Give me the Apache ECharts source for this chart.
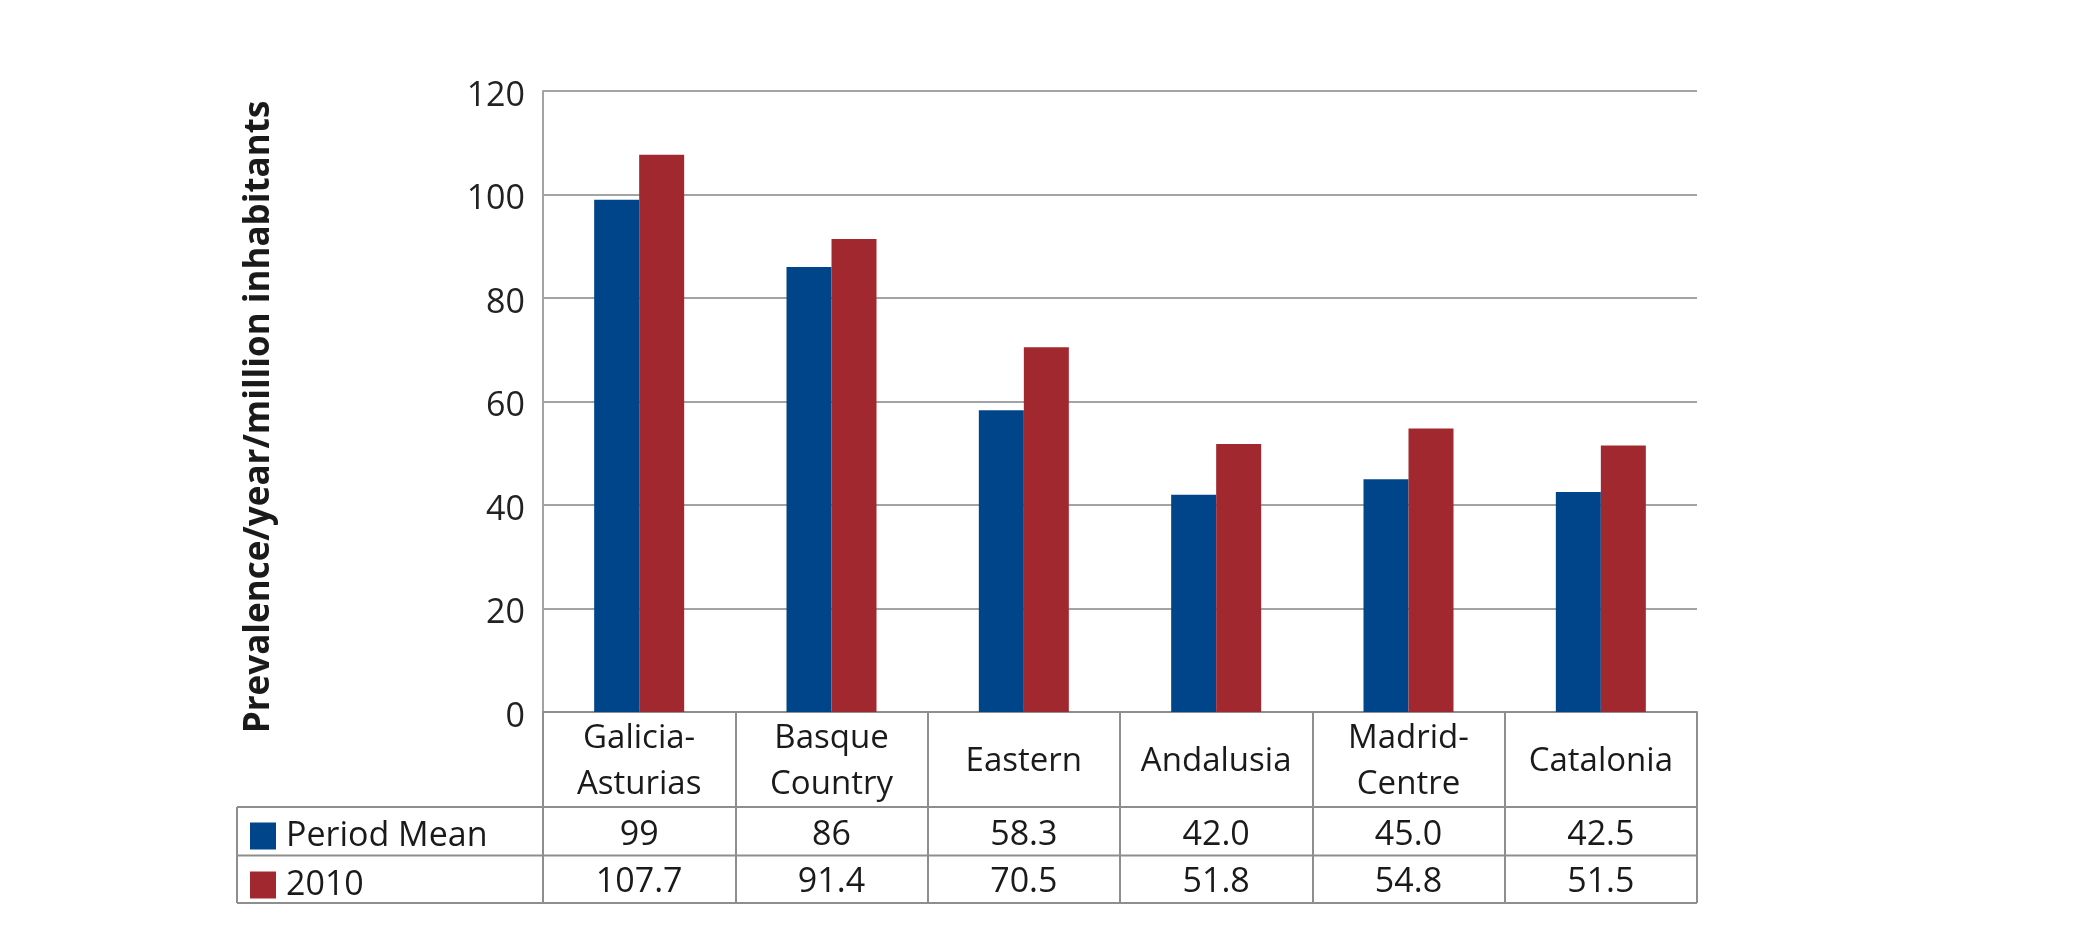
<!DOCTYPE html>
<html>
<head>
<meta charset="utf-8">
<script src="https://cdn.jsdelivr.net/npm/echarts@6/dist/echarts.min.js"></script>
<style>
html,body{margin:0;padding:0;background:#fff;}
#chart{width:2098px;height:926px;}
</style>
</head>
<body>
<div id="chart"></div>
<script>
// ---- data ----
const categories = ["Galicia-\nAsturias", "Basque\nCountry", "Eastern", "Andalusia", "Madrid-\nCentre", "Catalonia"];
const seriesNames = ["Period Mean", "2010"];
const periodMean = [99, 86, 58.3, 42.0, 45.0, 42.5];
const year2010 = [107.7, 91.4, 70.5, 51.8, 54.8, 51.5];
const periodMeanLabels = ["99", "86", "58.3", "42.0", "45.0", "42.5"];
const year2010Labels = ["107.7", "91.4", "70.5", "51.8", "54.8", "51.5"];
const yTicks = [0, 20, 40, 60, 80, 100, 120];

// ---- layout / style ----
const W = 2098, H = 926;
const gridLeft = 543, gridRight = 1697, gridTop = 91, gridBottom = 712;
const tableLeft = 237;
const rowLines = [807, 855.5, 903];
const legendTops = [819, 868];
const FONT = "'Open Sans', 'Noto Sans', sans-serif";
const TXT = '#1a1a1a';
const GRID_C = '#a3a3a3';
const TABLE_C = '#8e8e8e';
const BLUE = '#00458a';
const RED = '#a2282f';

const chart = echarts.init(document.getElementById('chart'), null, {renderer: 'canvas'});

function valueAxis(labels, margin) {
  return {
    type: 'category',
    data: categories,
    position: 'bottom',
    gridIndex: 0,
    axisLine: {show: false},
    axisTick: {show: false},
    splitLine: {show: false},
    axisLabel: {
      interval: 0,
      margin: margin,
      verticalAlign: 'middle',
      fontFamily: FONT,
      fontSize: 34,
      lineHeight: 34,
      color: TXT,
      formatter: (v, i) => labels[i]
    }
  };
}

function legendFor(i) {
  return {
    orient: 'vertical',
    left: 250,
    top: legendTops[i],
    padding: 0,
    itemWidth: 26,
    itemHeight: 27,
    icon: 'rect',
    data: [seriesNames[i]],
    selectedMode: false,
    textStyle: {
      fontFamily: FONT, fontSize: 34, lineHeight: 27, color: TXT,
      padding: [0, 0, 0, 5]
    }
  };
}

const graphics = [];
rowLines.forEach(y => {
  graphics.push({
    type: 'line', silent: true,
    shape: {x1: tableLeft, y1: y, x2: gridRight, y2: y},
    style: {stroke: TABLE_C, lineWidth: 2}
  });
});
graphics.push({
  type: 'line', silent: true,
  shape: {x1: tableLeft, y1: rowLines[0], x2: tableLeft, y2: rowLines[rowLines.length - 1]},
  style: {stroke: TABLE_C, lineWidth: 2}
});

chart.setOption({
  animation: false,
  backgroundColor: '#ffffff',
  grid: {
    left: gridLeft, right: W - gridRight, top: gridTop, bottom: H - gridBottom,
    containLabel: false
  },
  legend: [legendFor(0), legendFor(1)],
  xAxis: [
    {
      type: 'category',
      data: categories,
      position: 'bottom',
      gridIndex: 0,
      axisLine: {show: true, lineStyle: {color: TABLE_C, width: 2}},
      axisTick: {show: true, interval: 0, length: rowLines[rowLines.length - 1] - gridBottom,
                 lineStyle: {color: TABLE_C, width: 2}},
      splitLine: {show: false},
      axisLabel: {
        interval: 0,
        margin: 50,
        verticalAlign: 'middle',
        fontFamily: FONT,
        fontSize: 33,
        lineHeight: 46,
        color: TXT
      }
    },
    valueAxis(periodMeanLabels, 123),
    valueAxis(year2010Labels, 170)
  ],
  yAxis: {
    type: 'value',
    min: yTicks[0],
    max: yTicks[yTicks.length - 1],
    interval: 20,
    name: 'Prevalence/year/million inhabitants',
    nameLocation: 'middle',
    nameRotate: 90,
    nameGap: 266,
    nameTextStyle: {fontFamily: FONT, fontSize: 35, fontWeight: 'bold', color: TXT,
                    padding: [0, 31, 0, 0]},
    axisLine: {show: true, lineStyle: {color: GRID_C, width: 2}},
    axisTick: {show: false},
    splitLine: {show: true, lineStyle: {color: GRID_C, width: 2}},
    axisLabel: {
      margin: 18,
      formatter: '{t|{value}}',
      rich: {
        t: {fontFamily: FONT, fontSize: 34, lineHeight: 34, color: '#222', padding: [10, 0, 0, 0]}
      }
    }
  },
  series: [
    {
      name: seriesNames[0], type: 'bar', data: periodMean, xAxisIndex: 0,
      barWidth: 45, barGap: '0%',
      itemStyle: {color: BLUE}
    },
    {
      name: seriesNames[1], type: 'bar', data: year2010, xAxisIndex: 0,
      barWidth: 45, barGap: '0%',
      itemStyle: {color: RED}
    }
  ],
  graphic: graphics
});
</script>
</body>
</html>
